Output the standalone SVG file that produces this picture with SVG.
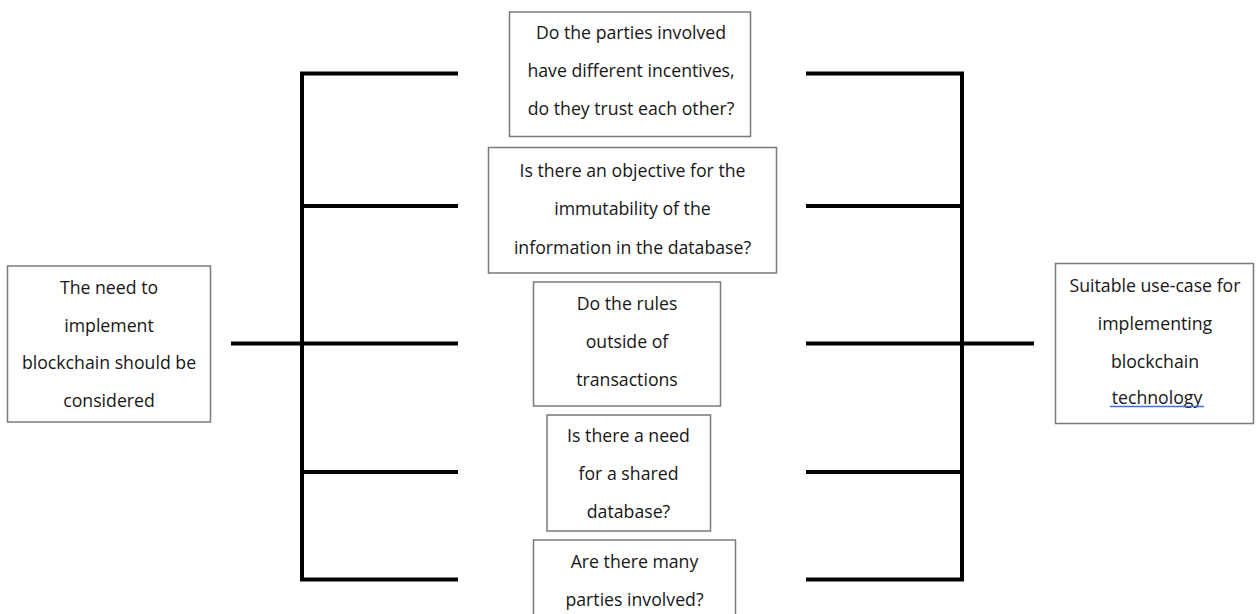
<svg xmlns="http://www.w3.org/2000/svg" width="1256" height="614" viewBox="0 0 1256 614">
  <style>
    .box { fill: #ffffff; stroke: #7a7a7a; stroke-width: 1.5; }
    .lbl { font-family: "Open Sans", "Noto Sans", sans-serif; font-size: 17.7px; fill: #161616; text-anchor: middle; dominant-baseline: central; }
    .wire { stroke: #000000; stroke-width: 4; fill: none; stroke-linecap: butt; stroke-linejoin: miter; }
    .spell { stroke: #3d6fe6; stroke-width: 1.6; }
  </style>
  <rect width="1256" height="614" fill="#ffffff"/>

  <!-- bracket connectors -->
  <g id="connectors">
    <!-- left bracket -->
    <path class="wire" d="M458 73.5 H302 V579.5 H458"/>
    <line class="wire" x1="302" y1="206" x2="458" y2="206"/>
    <line class="wire" x1="231" y1="343.5" x2="458" y2="343.5"/>
    <line class="wire" x1="302" y1="472" x2="458" y2="472"/>
    <!-- right bracket -->
    <path class="wire" d="M806 73.5 H962 V579.5 H806"/>
    <line class="wire" x1="806" y1="206" x2="962" y2="206"/>
    <line class="wire" x1="806" y1="343.5" x2="1034" y2="343.5"/>
    <line class="wire" x1="806" y1="472" x2="962" y2="472"/>
  </g>

  <g id="start">
    <rect class="box" x="7.5" y="266" width="203" height="156"/>
    <text class="lbl" x="109" y="287">The need to</text>
    <text class="lbl" x="109" y="324.5">implement</text>
    <text class="lbl" x="109" y="362">blockchain should be</text>
    <text class="lbl" x="109" y="399.5">considered</text>
  </g>

  <g id="q-incentives">
    <rect class="box" x="509.5" y="12" width="241" height="124.5"/>
    <text class="lbl" x="631" y="32">Do the parties involved</text>
    <text class="lbl" x="631" y="70">have different incentives,</text>
    <text class="lbl" x="631" y="108">do they trust each other?</text>
  </g>

  <g id="q-immutability">
    <rect class="box" x="488.5" y="147.5" width="288" height="125.5"/>
    <text class="lbl" x="632.5" y="170">Is there an objective for the</text>
    <text class="lbl" x="632.5" y="208">immutability of the</text>
    <text class="lbl" x="632.5" y="246.5">information in the database?</text>
  </g>

  <g id="q-rules">
    <rect class="box" x="533.5" y="282" width="187" height="124"/>
    <text class="lbl" x="627" y="303">Do the rules</text>
    <text class="lbl" x="627" y="341">outside of</text>
    <text class="lbl" x="627" y="378.5">transactions</text>
  </g>

  <g id="q-shared">
    <rect class="box" x="547" y="415" width="163.5" height="116"/>
    <text class="lbl" x="628.5" y="435">Is there a need</text>
    <text class="lbl" x="628.5" y="473">for a shared</text>
    <text class="lbl" x="628.5" y="510.5">database?</text>
  </g>

  <g id="q-parties">
    <rect class="box" x="533.5" y="540" width="202" height="80"/>
    <text class="lbl" x="634.5" y="561">Are there many</text>
    <text class="lbl" x="634.5" y="599">parties involved?</text>
  </g>

  <g id="result">
    <rect class="box" x="1055.5" y="263.5" width="198" height="160"/>
    <text class="lbl" x="1155" y="285">Suitable use-case for</text>
    <text class="lbl" x="1155" y="323">implementing</text>
    <text class="lbl" x="1155" y="360.5">blockchain</text>
    <text class="lbl" x="1157" y="396.5">technology</text>
    <!-- thin blue spell-check underline under the last word -->
    <line class="spell" x1="1110" y1="406.5" x2="1204" y2="406.5"/>
  </g>
</svg>
